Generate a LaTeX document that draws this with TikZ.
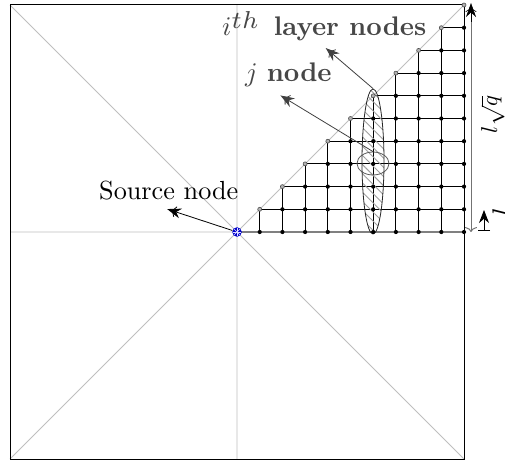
\documentclass[tikz,border=0pt]{standalone}
\usepackage{amsmath,graphicx}
\usetikzlibrary{arrows.meta,patterns.meta,shapes.geometric,calc}
\newcommand\bigtxt[1]{\scalebox{2.7}{#1}}
\tikzset{
  thin gray/.style={draw=black!25,line width=0.8bp},
  gridln/.style={draw=black,line width=1bp},
  gridlow/.style={draw=black!50,line width=1.3bp},
  griddot/.style={circle,fill=black,inner sep=0pt,minimum size=4.2bp},
  diagdot/.style={circle,draw=black!70,fill=black!30,line width=0.6bp,inner sep=0pt,minimum size=4bp},
  bigtip/.style={-{Stealth[length=14bp,width=10bp,sep=-9bp]To[length=6bp,width=11bp]}},
  label/.style={inner sep=0pt,text=black!72},
  pointer/.style={draw=black!75,line width=0.8bp,bigtip},
  srcdot/.style={circle,fill=blue!80!black,inner sep=0pt,minimum size=9.5bp}
}
\begin{document}
\begin{tikzpicture}[x=1bp,y=-1bp]
\useasboundingbox (0,0) rectangle (505,464);
\coordinate (TL) at (10,5); \coordinate (TR) at (464,5);
\coordinate (BL) at (10,459); \coordinate (BR) at (464,459);
\coordinate (W) at (10,232); \coordinate (E) at (464,232);
\coordinate (N) at (237,5); \coordinate (S) at (237,459);
\coordinate (C) at (237,232);
\draw[thin gray] (TL)--(BR) (TR)--(BL) (N)--(S) (W)--(E);
\draw[black,line width=1bp] (TL) rectangle (BR);
\foreach \k in {1,...,10}{
  \foreach \m in {0,...,\k}{
    \coordinate (p-\k-\m) at ({237+22.7*\k},{232-22.7*\m});
  }
}
\draw[gridlow] (C)--(p-10-0);
\foreach \k in {1,...,10}{
  \draw[gridln] (p-\k-0)--(p-\k-\k);
}
\foreach \m in {1,...,9}{
  \draw[gridln] (p-\m-\m)--(p-10-\m);
}
\node[ellipse,draw=black!85,line width=0.8bp,pattern={Lines[angle=-45,distance=6.5bp,line width=0.9bp]},pattern color=black!38,minimum width=22bp,minimum height=145bp,inner sep=0pt] (big) at (373,161.5) {};
\foreach \k in {1,...,10}{
  \foreach \m in {0,...,\k}{
    \ifnum\m=\k
      \node[diagdot] (n-\k-\m) at (p-\k-\m) {};
    \else
      \node[griddot] (n-\k-\m) at (p-\k-\m) {};
    \fi
  }
}
\node[ellipse,draw=black!65,line width=0.8bp,minimum width=32bp,minimum height=23bp,inner sep=0pt] (small) at (373,163.5) {};
\node[srcdot] (src) at (C) {};
\foreach \a in {0,45,...,315}{
  \draw[blue!15,line width=0.5bp] (C)--++(\a:4.2bp);
}
\node[anchor=base west,inner sep=0pt] (srclab) at (99,200) {\scalebox{2.63}{Source node}};
\node[label,anchor=base west] (layerlab) at (222,36) {\bigtxt{$i$\raisebox{2.7pt}{\scalebox{1.3}{$\scriptstyle th$}}\hspace{2.4pt} \textbf{layer nodes}}};
\node[label,anchor=base west] (jlab) at (245,82) {\bigtxt{$j$ \textbf{node}}};
\coordinate (srcend) at (170,210);
\coordinate (layerend) at (328,50);
\coordinate (jend) at (283,97);
\draw[black,line width=0.8bp,bigtip] (src)--(srcend);
\draw[pointer] (big.north)--(layerend);
\draw[pointer] (small.north)--(jend);
\coordinate (dimtop) at (471,6);
\coordinate (dimbot) at (471,232);
\draw[black!55,line width=1bp,{To[length=5bp,width=12bp]}-] (dimbot)--(471,22);
\draw[black,line width=0.6bp,-{Stealth[length=14bp,width=10bp,sep=-9bp]To[length=6bp,width=11bp]}] (471,22)--(dimtop);
\coordinate (lbot) at (484,231);
\coordinate (ltop) at (484,210);
\draw[black,line width=0.8bp,{Bar[width=12bp]}-{Stealth[length=13bp,width=10bp]}] (lbot)--(ltop);
\node[rotate=90,anchor=base,inner sep=0pt] (lq) at (497,114.5) {\scalebox{2.3}{$l\sqrt{q}$}};
\node[rotate=90,anchor=base,inner sep=0pt] (l) at (511,212.5) {\bigtxt{$l$}};
\end{tikzpicture}
\end{document}
